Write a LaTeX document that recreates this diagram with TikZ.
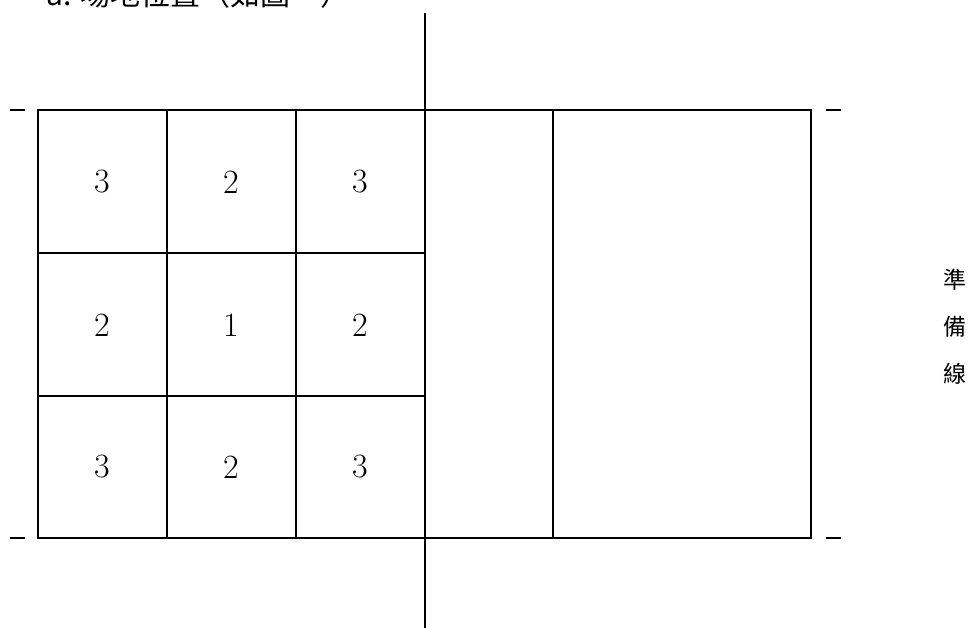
\documentclass[tikz,border=0pt]{standalone}
\usepackage{fontspec}
\newfontfamily\cjk{Noto Sans CJK TC}
\begin{document}
\begin{tikzpicture}[x=1pt,y=-1pt,
  ln/.style={line width=1.5pt},
  digit/.style={font=\fontsize{34}{38}\selectfont, inner sep=0pt},
  vchar/.style={font=\cjk\fontsize{23}{26}\selectfont, inner sep=0pt},
  title/.style={font=\cjk\fontsize{30}{36}\selectfont, inner sep=0pt, anchor=base west}]
\useasboundingbox (0,0) rectangle (974,628);
% title (cropped at top, as in the reference)
\node[title] (t) at (46,6) {a. 場地位置（如圖一）};
% outer court
\draw[ln] (38,110) rectangle (811,538);
% vertical lines
\draw[ln] (167,110) -- (167,538);
\draw[ln] (296,110) -- (296,538);
\draw[ln] (553,110) -- (553,538);
\draw[ln] (425,13) -- (425,628);
% horizontal grid lines
\draw[ln] (38,253) -- (425,253);
\draw[ln] (38,396) -- (425,396);
% ticks
\draw[ln] (10,110) -- (25,110);
\draw[ln] (10,538) -- (25,538);
\draw[ln] (826,110) -- (841,110);
\draw[ln] (826,538) -- (841,538);
% digits
\node[digit] (c11) at (102,182) {3};
\node[digit] (c12) at (231,182) {2};
\node[digit] (c13) at (360,182) {3};
\node[digit] (c21) at (102,325) {2};
\node[digit] (c22) at (231,325) {1};
\node[digit] (c23) at (360,325) {2};
\node[digit] (c31) at (102,467) {3};
\node[digit] (c32) at (231,467) {2};
\node[digit] (c33) at (360,467) {3};
% vertical label
\node[vchar] (v1) at (955,280) {準};
\node[vchar] (v2) at (955,327) {備};
\node[vchar] (v3) at (955,374) {線};
\end{tikzpicture}
\end{document}
